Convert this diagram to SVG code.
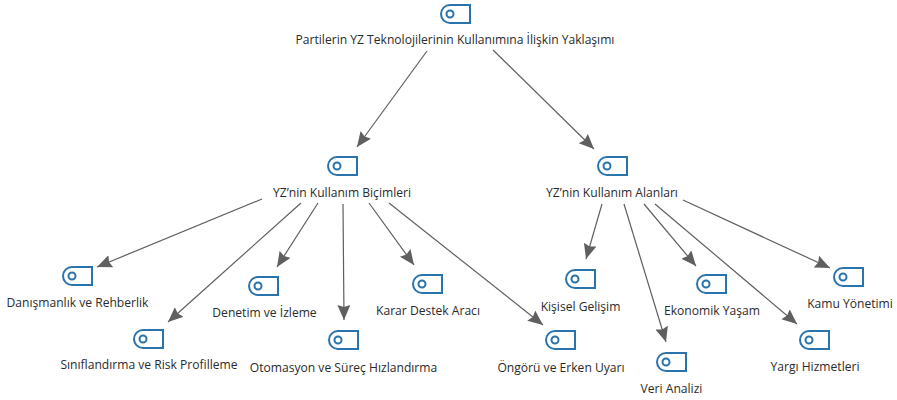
<svg xmlns="http://www.w3.org/2000/svg" width="897" height="400" viewBox="0 0 897 400">
<style>
text{font-family:"Open Sans","Noto Sans","Liberation Sans",sans-serif;font-size:12.1px;fill:#2b2b2b;text-anchor:middle}
.i{fill:none;stroke:#2a74ad;stroke-width:2}
.c{fill:none;stroke:#5f5f5f;stroke-width:1.2;marker-end:url(#a)}
</style>
<defs>
<marker id="a" markerUnits="userSpaceOnUse" markerWidth="17" markerHeight="15" refX="15" refY="6.5" orient="auto"><path d="M0 0L15 6.5L0 13L2 6.5z" fill="#5f5f5f"/></marker>
<g id="ic"><path class="i" d="M10 1H30V19H10A9 9 0 0 1 10 1z"/><circle class="i" cx="10" cy="10" r="3.5"/></g>
</defs>
<g id="connectors">
<path class="c" d="M427 51L357 147"/>
<path class="c" d="M493 50L594 149"/>
<path class="c" d="M262 199L97 267"/>
<path class="c" d="M301 203L168 322"/>
<path class="c" d="M318 203L277 267"/>
<path class="c" d="M343 204L344 320"/>
<path class="c" d="M369 203L414 265"/>
<path class="c" d="M389 203L543 325"/>
<path class="c" d="M602 204L586 259"/>
<path class="c" d="M624 204L666 342"/>
<path class="c" d="M644 204L696 266"/>
<path class="c" d="M655 204L797 324"/>
<path class="c" d="M683 200L830 268"/>
</g>
<g id="n0"><use href="#ic" x="440" y="4"/><text x="455" y="44">Partilerin YZ Teknolojilerinin Kullanımına İlişkin Yaklaşımı</text></g>
<g id="n1"><use href="#ic" x="327" y="156"/><text x="342" y="197">YZ’nin Kullanım Biçimleri</text></g>
<g id="n2"><use href="#ic" x="597" y="156"/><text x="612" y="197">YZ’nin Kullanım Alanları</text></g>
<g id="n3"><use href="#ic" x="62" y="266"/><text x="77.5" y="307">Danışmanlık ve Rehberlik</text></g>
<g id="n4"><use href="#ic" x="133" y="329"/><text x="149" y="369">Sınıflandırma ve Risk Profilleme</text></g>
<g id="n5"><use href="#ic" x="248" y="276"/><text x="264.5" y="317">Denetim ve İzleme</text></g>
<g id="n6"><use href="#ic" x="328" y="330"/><text x="343.5" y="372">Otomasyon ve Süreç Hızlandırma</text></g>
<g id="n7"><use href="#ic" x="412" y="274"/><text x="428" y="315">Karar Destek Aracı</text></g>
<g id="n8"><use href="#ic" x="545" y="330"/><text x="561" y="372">Öngörü ve Erken Uyarı</text></g>
<g id="n9"><use href="#ic" x="565" y="269"/><text x="580.5" y="311">Kişisel Gelişim</text></g>
<g id="n10"><use href="#ic" x="656" y="352"/><text x="671.5" y="393">Veri Analizi</text></g>
<g id="n11"><use href="#ic" x="696" y="274"/><text x="712" y="315">Ekonomik Yaşam</text></g>
<g id="n12"><use href="#ic" x="799" y="330"/><text x="815" y="371">Yargı Hizmetleri</text></g>
<g id="n13"><use href="#ic" x="833" y="267"/><text x="850" y="308">Kamu Yönetimi</text></g>
</svg>
